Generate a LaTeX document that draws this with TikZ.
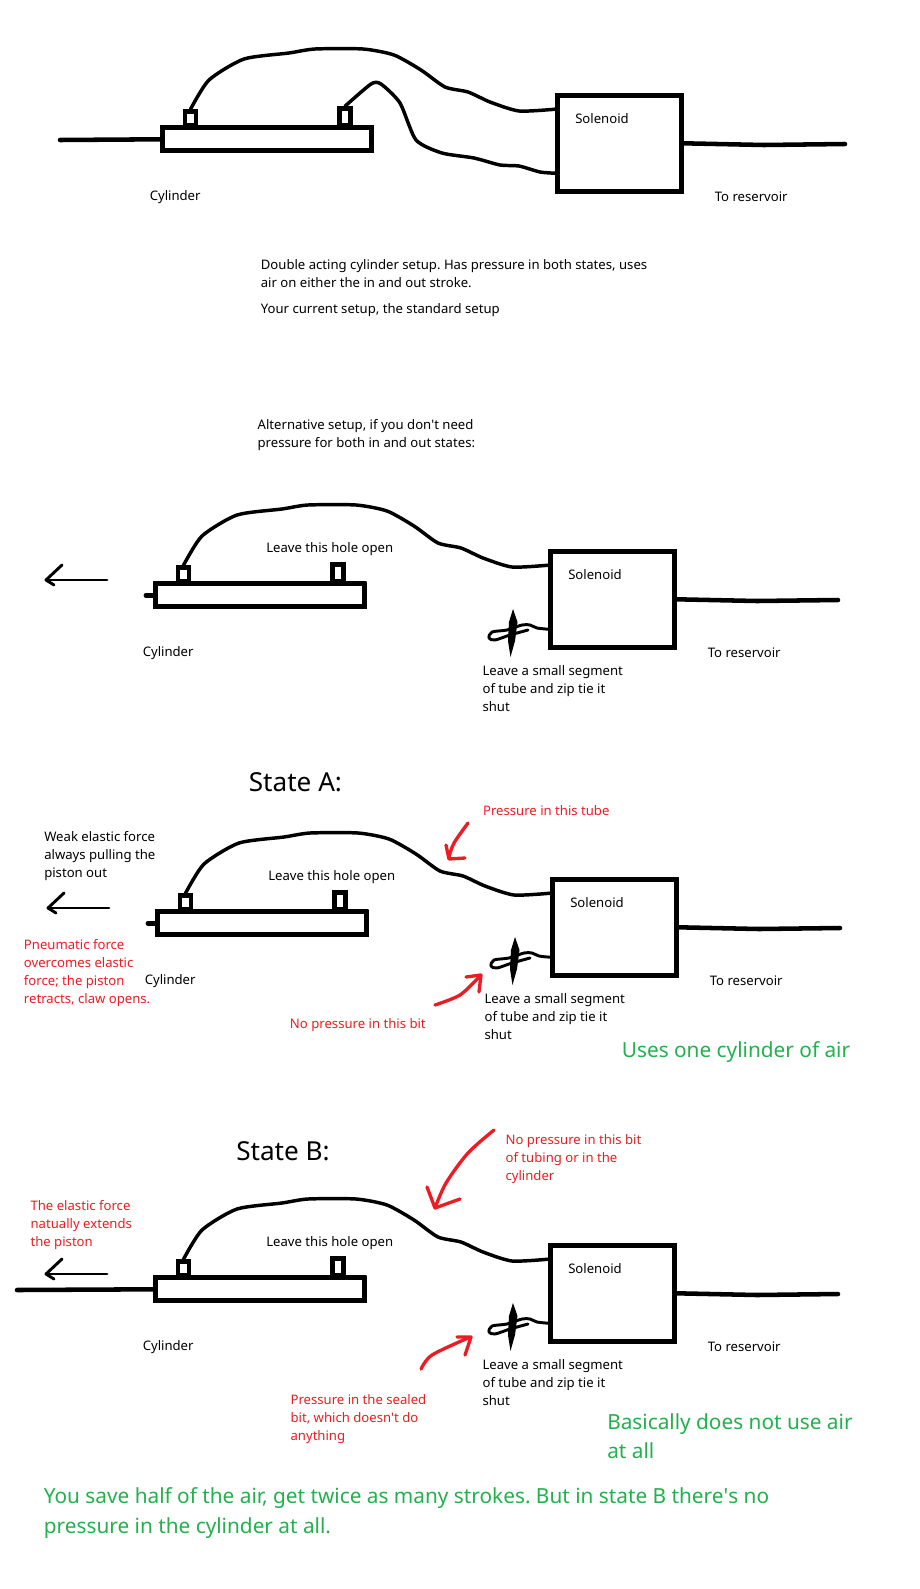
\documentclass[tikz,border=0pt]{standalone}
\usepackage{fontspec}
\setmainfont{Noto Sans}
\usepackage{xcolor}
\usepackage{tikz}
\definecolor{notered}{RGB}{237,28,36}
\definecolor{notegreen}{RGB}{34,177,76}
\frenchspacing

\begin{document}
\begin{tikzpicture}[x=0.75pt, y=-0.75pt, font=\fontsize{9.85}{12}\selectfont,
  cylbody/.style={draw, line width=3.75pt, minimum width=156.5pt, minimum height=17pt, inner sep=0pt},
  portbox/.style={draw, line width=3.4pt, minimum width=8pt, inner sep=0pt},
  valvebox/.style={draw, line width=3.75pt, minimum width=92.5pt, minimum height=72pt, inner sep=0pt},
  tube/.style={line width=2.6pt, line cap=round, line join=round},
  rod/.style={line width=3.4pt, line cap=round},
  redpen/.style={notered, line width=2.5pt, line cap=round, line join=round},
  txt/.style={anchor=base west, inner sep=0pt},
  note/.style={txt, notered},
  title/.style={txt, font=\fontsize{19.6}{22}\selectfont},
  bignote/.style={txt, notegreen, font=\fontsize{15.6}{20}\selectfont}]

\path[use as bounding box, fill=white] (0,0) rectangle (920,1589);

% ==========================================
% The Four Rigs (same drawing, shifted)
% ==========================================
\foreach \rigname/\dx/\dy in {one/0/0, two/-7/456, three/-5/784, four/-7/1150} {
\begin{scope}[shift={(\dx,\dy)}, name prefix=\rigname-]
  \node[cylbody] (cyl) at (266.7,139.3) {};
  \node[portbox, minimum height=10.5pt] (portin) at (190.5,118.5) {};
  \node[portbox, minimum height=12.75pt] (portout) at (345,117) {};
  \node[valvebox] (valve) at (619.5,143.3) {};

  % Tube from cylinder to solenoid
  \draw[tube] plot[smooth, tension=0.4] coordinates {(portin.north) (209,80) (244,59) (289,53) (315,49) (363,49) (394,55) (421,70) (445,87) (468,92) (490,102) (519,111) (valve.152)};

  % Line to reservoir
  \coordinate (kink) at (764,145);
  \coordinate (reservoir) at (845,144);
  \draw[rod] (valve.east) -- (kink) -- (reservoir);

  % Labels
  \node[txt] (cyllabel) at (149.5,200) {Cylinder};
  \node[txt] (valvelabel) at (575,123.7) {Solenoid};
  \node[txt] (reslabel) at (714.5,201) {To reservoir};
\end{scope}
}

% ==========================================
% Rig One: Standard Setup
% ==========================================
\coordinate (one-rodend) at (60,140);
\draw[rod] (one-rodend) -- (one-cyl.west);
\draw[tube] plot[smooth, tension=0.4] coordinates {(one-portout.north) (371,84) (381,84) (400,103) (416,140) (442,153) (474,158) (500,165) (519,166) (540,172) (one-valve.205)};

\node[txt] (stdone) at (260.6,269) {Double acting cylinder setup. Has pressure in both states, uses};
\node[txt] (stdtwo) at (260.6,287) {air on either the in and out stroke.};
\node[txt] (stdthree) at (260.6,313.7) {Your current setup, the standard setup};

\node[txt] (altone) at (257.4,429) {Alternative setup, if you don\textquotesingle t need};
\node[txt] (alttwo) at (257.4,447) {pressure for both in and out states:};

% ==========================================
% Rigs Two to Four: Sealed Tube and Arrow
% ==========================================
\foreach \rigname/\dx/\dy in {two/-7/456, three/-5/784, four/-7/1150} {
\begin{scope}[shift={(\dx,\dy)}, name prefix=\rigname-]
  % Worn corner of the cylinder
  \fill[white] (cyl.north east) ++(-3.5,-3.5) -- ++(7.5,0) -- ++(0,7.5) -- cycle;

  % Zip tied stub
  \draw[tube, line width=2.2pt] plot[smooth, tension=0.5] coordinates {(valve.205) (544,172) (537,169) (529,169) (514,174) (499,176) (496,182) (502,184) (517,179) (535,174)};
  \fill (520,153) -- (524.5,166) -- (522,185) -- (517.5,201) -- (515,185) -- (516,166) -- cycle;

  % Leftward arrow
  \coordinate (arrowtail) at (114,124);
  \coordinate (arrowtip) at (53,124);
  \draw[tube, line width=2.2pt] (arrowtail) -- (arrowtip);
  \draw[tube, line width=2.2pt] (69,109) -- (arrowtip) -- (61,129);

  \node[txt] (holelabel) at (273,96) {Leave this hole open};
  \node[txt] (ziplabel) at (489.3,219) {Leave a small segment};
  \node[txt] (ziplabelb) at (489.3,237) {of tube and zip tie it};
  \node[txt] (ziplabelc) at (489.3,255) {shut};
\end{scope}
}

% Rod stubs on the cylinders
\draw[rod] (two-cyl.west) -- ++(-7,0);
\draw[rod] (three-cyl.west) -- ++(-7,0);
\coordinate (four-rodend) at (17,1290);
\draw[rod] (four-rodend) -- (four-cyl.west);

% ==========================================
% State A
% ==========================================
\node[title] (statea) at (248.6,791.7) {State A:};
\node[txt] (weakone) at (44,841) {Weak elastic force};
\node[txt] (weaktwo) at (44,859) {always pulling the};
\node[txt] (weakthree) at (44,877) {piston out};

\node[note] (presa) at (482.8,815) {Pressure in this tube};
\draw[redpen] plot[smooth] coordinates {(468,823) (454,843) (449,857)};
\draw[redpen] (446,845) -- (449,859) -- (465,858);

\node[note] (pneuone) at (23.7,949) {Pneumatic force};
\node[note] (pneutwo) at (23.7,967) {overcomes elastic};
\node[note] (pneuthree) at (23.7,985) {force; the piston};
\node[note] (pneufour) at (23.7,1003) {retracts, claw opens.};

\node[note] (nopresa) at (289.7,1028.3) {No pressure in this bit};
\draw[redpen] plot[smooth] coordinates {(435,1005) (460,995) (479,977)};
\draw[redpen] (466,977) -- (481,975) -- (479,992);

\node[bignote] (usesone) at (621.6,1057) {Uses one cylinder of air};

% ==========================================
% State B
% ==========================================
\node[title] (stateb) at (236,1160.3) {State B:};
\node[note] (elasone) at (30.3,1210) {The elastic force};
\node[note] (elastwo) at (30.3,1228) {natually extends};
\node[note] (elasthree) at (30.3,1246) {the piston};

\node[note] (nopresone) at (505.3,1144) {No pressure in this bit};
\node[note] (noprestwo) at (505.3,1162) {of tubing or in the};
\node[note] (nopresthree) at (505.3,1180) {cylinder};
\draw[redpen] plot[smooth] coordinates {(494,1130) (468,1153) (446,1183) (435,1208)};
\draw[redpen] (427,1187) -- (435,1208) -- (460,1199);

\node[note] (sealone) at (290.3,1404) {Pressure in the sealed};
\node[note] (sealtwo) at (290.3,1422) {bit, which doesn\textquotesingle t do};
\node[note] (sealthree) at (290.3,1440) {anything};
\draw[redpen] plot[smooth] coordinates {(421,1369) (432,1355) (468,1338)};
\draw[redpen] (457,1337) -- (471,1337) -- (465,1355);

\node[bignote] (basicone) at (607,1429) {Basically does not use air};
\node[bignote] (basictwo) at (607,1458) {at all};

% Closing remark
\node[bignote] (saveone) at (43.6,1503) {You save half of the air, get twice as many strokes. But in state B there\textquotesingle s no};
\node[bignote] (savetwo) at (43.6,1533) {pressure in the cylinder at all.};

\end{tikzpicture}
\end{document}
